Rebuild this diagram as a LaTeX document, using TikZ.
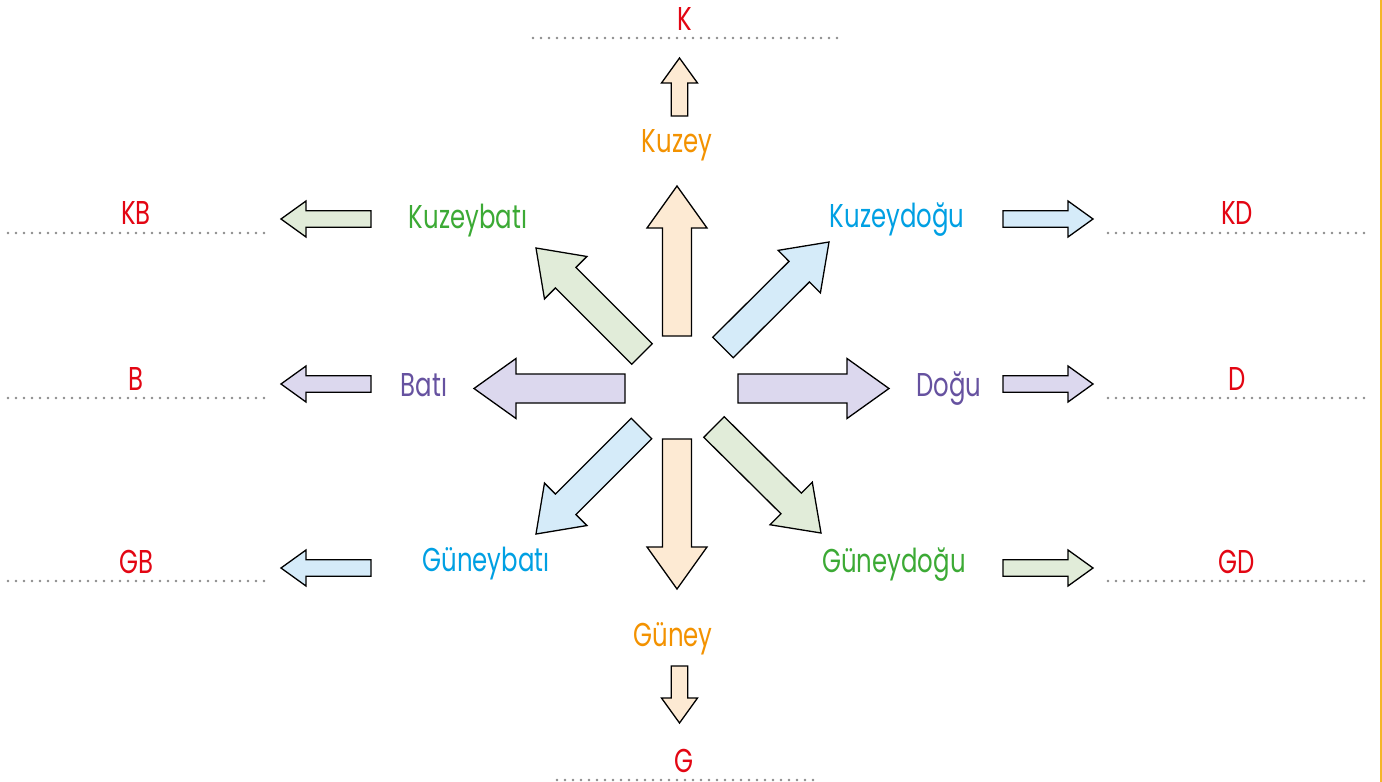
\documentclass[tikz,border=0pt]{standalone}
\usepackage{fontspec}
\setmainfont{Poppins}[FakeStretch=0.74]
\usetikzlibrary{calc}
\definecolor{tred}{RGB}{227,6,19}
\definecolor{torange}{RGB}{243,146,0}
\definecolor{tgreen}{RGB}{60,170,53}
\definecolor{tblue}{RGB}{0,160,227}
\definecolor{tpurple}{RGB}{102,82,160}
\definecolor{fpeach}{RGB}{253,234,211}
\definecolor{fgreen}{RGB}{225,236,217}
\definecolor{fblue}{RGB}{213,235,249}
\definecolor{flav}{RGB}{220,216,238}
\definecolor{dotgray}{RGB}{140,140,140}
\definecolor{edge}{RGB}{245,182,40}
\tikzset{
  arrowbody/.style={draw=black, line width=1.3pt, line join=miter},
  dotline/.style={draw=dotgray, line width=2.8pt, line cap=round, dash pattern=on 0pt off 8pt},
  lab/.style={anchor=base, inner sep=0pt, font=\fontsize{33}{33}\selectfont},
}
% #1 tail, #2 tip, #3 half shaft, #4 half head, #5 head length, #6 fill
\newcommand\blockarrow[6]{%
  \coordinate (aT) at #1;
  \coordinate (aP) at #2;
  \coordinate (aB) at ($(aP)!#5!(aT)$);
  \filldraw[arrowbody, fill=#6]
    ($(aT)!#3!90:(aP)$) -- ($(aB)!#3!90:(aP)$) -- ($(aB)!#4!90:(aP)$) -- (aP)
    -- ($(aB)!#4!-90:(aP)$) -- ($(aB)!#3!-90:(aP)$) -- ($(aT)!#3!-90:(aP)$) -- cycle;
}
\newcommand\bigarr[3]{\blockarrow{#1}{#2}{14.5pt}{30pt}{42pt}{#3}}
\newcommand\smallarr[3]{\blockarrow{#1}{#2}{8.3pt}{18pt}{25pt}{#3}}
\begin{document}
\begin{tikzpicture}[x=1pt,y=-1pt]
\useasboundingbox (0,0) rectangle (1382,782);
\fill[white] (0,0) rectangle (1382,782);
\draw[edge, line width=2.5pt] (1381,0) -- (1381,782);
% dotted answer lines
\draw[dotline] (533,38) -- (840,38);
\draw[dotline] (557,780) -- (815,780);
\foreach \yy in {233,398,581}{
  \draw[dotline] (8,\yy) -- (267,\yy);
  \draw[dotline] (1108,\yy) -- (1367,\yy);
}
% big arrows
\bigarr{(677,336)}{(677,186)}{fpeach}
\bigarr{(677,439)}{(677,589)}{fpeach}
\bigarr{(738,388.5)}{(889,388.5)}{flav}
\bigarr{(625,388.5)}{(474,388.5)}{flav}
\bigarr{(642,354)}{(536,248)}{fgreen}
\bigarr{(723,347.5)}{(829,242)}{fblue}
\bigarr{(641.5,428.5)}{(536,534)}{fblue}
\bigarr{(714,427)}{(821,533)}{fgreen}
% small arrows
\smallarr{(679.5,116)}{(679.5,58)}{fpeach}
\smallarr{(679.5,666)}{(679.5,723)}{fpeach}
\smallarr{(371,219)}{(281,219)}{fgreen}
\smallarr{(371,384)}{(281,384)}{flav}
\smallarr{(371,568)}{(281,568)}{fblue}
\smallarr{(1003,219)}{(1093,219)}{fblue}
\smallarr{(1003,384)}{(1093,384)}{flav}
\smallarr{(1003,568)}{(1093,568)}{fgreen}
% direction labels
\node[lab, text=torange] (kuzey) at (677,152) {Kuzey};
\node[lab, text=torange] (guney) at (673,646) {Güney};
\node[lab, text=tgreen] (kb) at (468,228) {Kuzeybatı};
\node[lab, text=tblue] (kd) at (897,227) {Kuzeydoğu};
\node[lab, text=tpurple] (bati) at (424,396) {Batı};
\node[lab, text=tpurple] (dogu) at (949,396) {Doğu};
\node[lab, text=tblue] (gb) at (486,571) {Güneybatı};
\node[lab, text=tgreen] (gd) at (894,572) {Güneydoğu};
% abbreviations
\node[lab, text=tred] (aK) at (685,30) {K};
\node[lab, text=tred] (aG) at (684,772) {G};
\node[lab, text=tred] (aKB) at (136,224) {KB};
\node[lab, text=tred] (aB) at (136,390) {B};
\node[lab, text=tred] (aGB) at (136,573) {GB};
\node[lab, text=tred] (aKD) at (1237,224) {KD};
\node[lab, text=tred] (aD) at (1237,390) {D};
\node[lab, text=tred] (aGD) at (1237,573) {GD};
\end{tikzpicture}
\end{document}
